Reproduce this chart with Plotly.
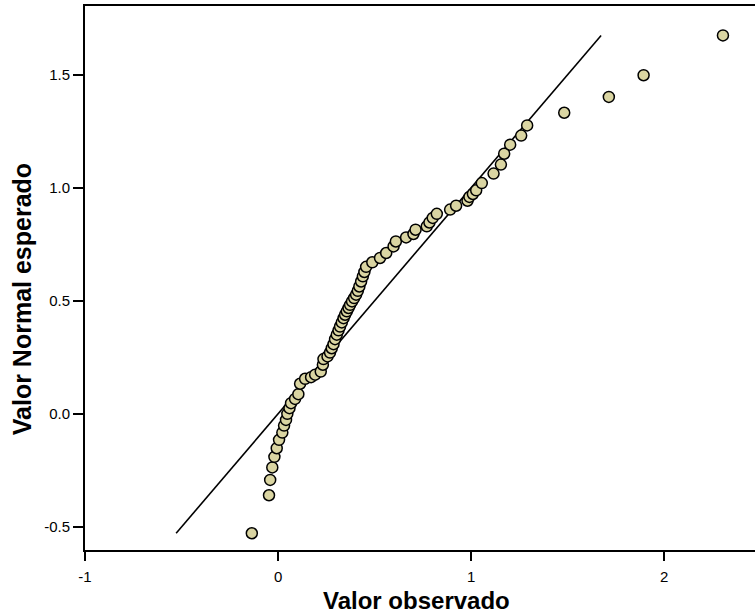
import plotly.graph_objects as go

observed = [
    -0.136, -0.047, -0.041, -0.030, -0.019, -0.007, 0.005, 0.022, 0.031, 0.041,
    0.048, 0.059, 0.067, 0.088, 0.105, 0.114, 0.140, 0.171, 0.192, 0.221,
    0.232, 0.235, 0.256, 0.269, 0.278, 0.287, 0.295, 0.304, 0.313, 0.321,
    0.330, 0.339, 0.347, 0.356, 0.365, 0.373, 0.383, 0.394, 0.404, 0.413,
    0.421, 0.430, 0.439, 0.447, 0.456, 0.488, 0.528, 0.560, 0.598, 0.610,
    0.663, 0.701, 0.712, 0.770, 0.784, 0.801, 0.822, 0.891, 0.922, 0.981,
    0.991, 1.009, 1.026, 1.055, 1.116, 1.154, 1.171, 1.202, 1.259, 1.290,
    1.482, 1.713, 1.893, 2.304,
]
expected = [
    -0.528, -0.360, -0.292, -0.237, -0.190, -0.152, -0.115, -0.083, -0.052, -0.027,
    0.000, 0.025, 0.047, 0.066, 0.087, 0.133, 0.155, 0.162, 0.173, 0.187,
    0.217, 0.242, 0.254, 0.271, 0.290, 0.308, 0.330, 0.350, 0.369, 0.386,
    0.404, 0.423, 0.438, 0.453, 0.468, 0.482, 0.497, 0.512, 0.527, 0.544,
    0.563, 0.585, 0.608, 0.627, 0.650, 0.670, 0.689, 0.711, 0.740, 0.762,
    0.780, 0.795, 0.814, 0.829, 0.846, 0.866, 0.884, 0.903, 0.920, 0.942,
    0.959, 0.972, 0.988, 1.020, 1.062, 1.102, 1.150, 1.190, 1.230, 1.275,
    1.331, 1.401, 1.497, 1.673,
]

# Reference line endpoints (y = x)
line_x = [-0.528, 1.673]
line_y = [-0.528, 1.673]

x_ticks = [-1, 0, 1, 2]
x_ticklabels = ["-1", "0", "1", "2"]
y_ticks = [-0.5, 0.0, 0.5, 1.0, 1.5]
y_ticklabels = ["-0.5", "0.0", "0.5", "1.0", "1.5"]

fig = go.Figure()
fig.add_trace(go.Scatter(
    x=line_x, y=line_y, mode="lines",
    line=dict(color="black", width=1.6), hoverinfo="skip", showlegend=False,
))
fig.add_trace(go.Scatter(
    x=observed, y=expected, mode="markers",
    marker=dict(size=11, color="#DAD5A2", line=dict(color="black", width=1.5)),
    showlegend=False,
))

font = "Liberation Sans, Arial, sans-serif"
fig.update_layout(
    width=755, height=615,
    margin=dict(l=85, r=0, t=6, b=65),
    paper_bgcolor="white", plot_bgcolor="white",
    font=dict(family=font, size=15, color="black"),
    xaxis=dict(
        range=[-1, 2.47], tickvals=x_ticks, ticktext=x_ticklabels,
        showgrid=False, zeroline=False, showline=True, mirror=True,
        linecolor="black", linewidth=2, ticks="outside", ticklen=9,
        tickwidth=2, tickcolor="black", tickfont=dict(size=15, family=font),
        ticklabelstandoff=3,
    ),
    yaxis=dict(
        range=[-0.602, 1.803], tickvals=y_ticks, ticktext=y_ticklabels,
        showgrid=False, zeroline=False, showline=True,
        linecolor="black", linewidth=2, ticks="outside", ticklen=10,
        tickwidth=2, tickcolor="black", tickfont=dict(size=15, family=font),
        ticklabelstandoff=0,
    ),
    annotations=[
        dict(text="<b>Valor observado</b>", xref="paper", yref="paper",
             x=0.495, y=0, yshift=-50, xanchor="center", yanchor="middle",
             showarrow=False, font=dict(size=24, family=font)),
        dict(text="<b>Valor Normal esperado</b>", xref="paper", yref="paper",
             x=0, xshift=-63, y=0.461, xanchor="center", yanchor="middle",
             textangle=-90, showarrow=False, font=dict(size=25, family=font)),
    ],
)

fig.write_html("out.html")
